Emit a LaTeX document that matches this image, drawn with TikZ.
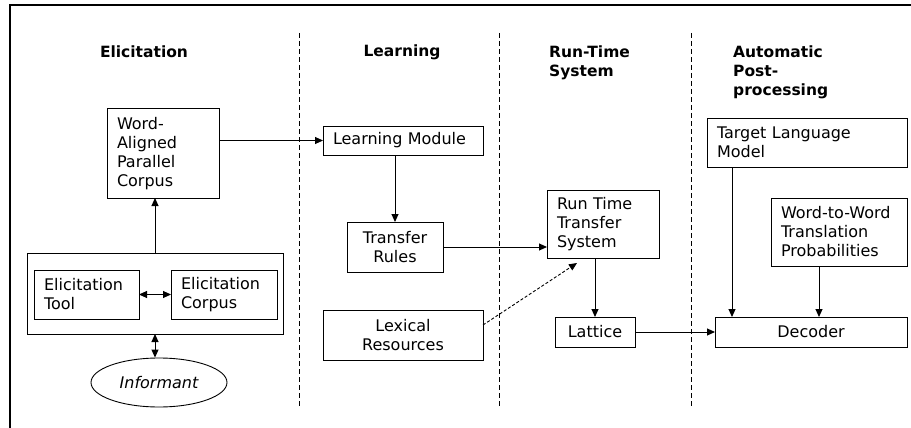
\documentclass[tikz,border=0pt]{standalone}
\usepackage{fontspec}
\setmainfont{DejaVu Sans}
\usetikzlibrary{arrows.meta,shapes.geometric,calc}
\begin{document}
\begin{tikzpicture}[x=1pt,y=-1pt,
  every node/.style={font=\fontsize{16}{19}\selectfont},
  box/.style={draw, line width=1pt, inner sep=0pt, outer sep=0pt},
  lbox/.style={box, align=left, inner xsep=10pt},
  cbox/.style={box, align=center},
  head/.style={font=\fontsize{15.5}{19}\selectfont\bfseries, align=left, inner sep=0pt},
  arr/.style={line width=1pt, -{Triangle[length=8pt,width=7pt]}},
  darr/.style={line width=1pt, {Triangle[length=8pt,width=7pt]}-{Triangle[length=8pt,width=7pt]}},
  sep/.style={line width=0.9pt, dash pattern=on 5pt off 3pt}
]
\useasboundingbox (0,0) rectangle (911,428);
% frame
\draw[line width=1.2pt] (911,5) -- (10,5) -- (10,428);
% separators
\draw[sep] (299,33) -- (299,407);
\draw[sep] (499,33) -- (499,407);
\draw[sep] (691,33) -- (691,407);
% headings
\node[head] (h1) at (144,52) {Elicitation};
\node[head] (h2) at (402,52) {Learning};
\node[head, anchor=north west] (h3) at (549,46) {Run-Time\\System};
\node[head, anchor=north west] (h4) at (733,46) {Automatic\\Post-\\processing};
% boxes
\node[lbox, text width=92pt, minimum height=89pt] (WA) at (163,153.5) {Word-\\Aligned\\Parallel\\Corpus};
\node[lbox, text width=140pt, minimum height=29pt] (LM) at (403,140.5) {Learning Module};
\node[cbox, minimum width=96pt, minimum height=50pt] (TR) at (395,247) {Transfer\\Rules};
\node[cbox, minimum width=160pt, minimum height=50pt] (LR) at (403,335) {Lexical\\Resources};
\node[lbox, text width=92pt, minimum height=68pt] (RT) at (603,224) {Run Time\\Transfer\\System};
\node[cbox, minimum width=80pt, minimum height=30pt] (Lat) at (595,332) {Lattice};
\node[lbox, text width=180pt, minimum height=49pt] (TLM) at (807,142.5) {Target Language\\Model};
\node[lbox, text width=116pt, minimum height=68pt] (WW) at (839,232) {Word-to-Word\\Translation\\Probabilities};
\node[cbox, minimum width=192pt, minimum height=30pt] (Dec) at (811,332) {Decoder};
\node[box, minimum width=256pt, minimum height=81pt] (EB) at (155,293.5) {};
\node[lbox, text width=85pt, minimum height=49pt] (ET) at (86.5,294.5) {Elicitation\\Tool};
\node[lbox, text width=86pt, minimum height=49pt] (EC) at (224,294.5) {Elicitation\\Corpus};
\node[draw, line width=0.9pt, ellipse, minimum width=136pt, minimum height=49pt, inner sep=0pt, font=\fontsize{16}{19}\selectfont\itshape] (Inf) at (159,382.5) {Informant};
% connectors
\draw[arr] (EB.north) -- (EB.north |- WA.south);
\draw[darr] (ET.east) -- (EC.west);
\draw[darr] (EB.south) -- (EB.south |- Inf.north);
\draw[arr] (WA.east |- LM.west) -- (LM.west);
\draw[arr] (TR.north |- LM.south) -- (TR.north);
\draw[arr] (TR.east) -- (TR.east -| RT.west);
\coordinate (lrout) at ($(LR.east)+(0,-10)$);
\coordinate (rtin) at (577,263);
\draw[line width=0.9pt, dash pattern=on 3pt off 2pt, -{Triangle[length=8pt,width=7pt]}] (lrout) -- (rtin);
\draw[arr] (RT.south -| Lat.north) -- (Lat.north);
\draw[arr] (Lat.east) -- (Dec.west);
\coordinate (tlmout) at ($(TLM.south west)+(25,0)$);
\draw[arr] (tlmout) -- (tlmout |- Dec.north);
\coordinate (wwout) at ($(WW.south)+(-20,0)$);
\draw[arr] (wwout) -- (wwout |- Dec.north);
\end{tikzpicture}
\end{document}
